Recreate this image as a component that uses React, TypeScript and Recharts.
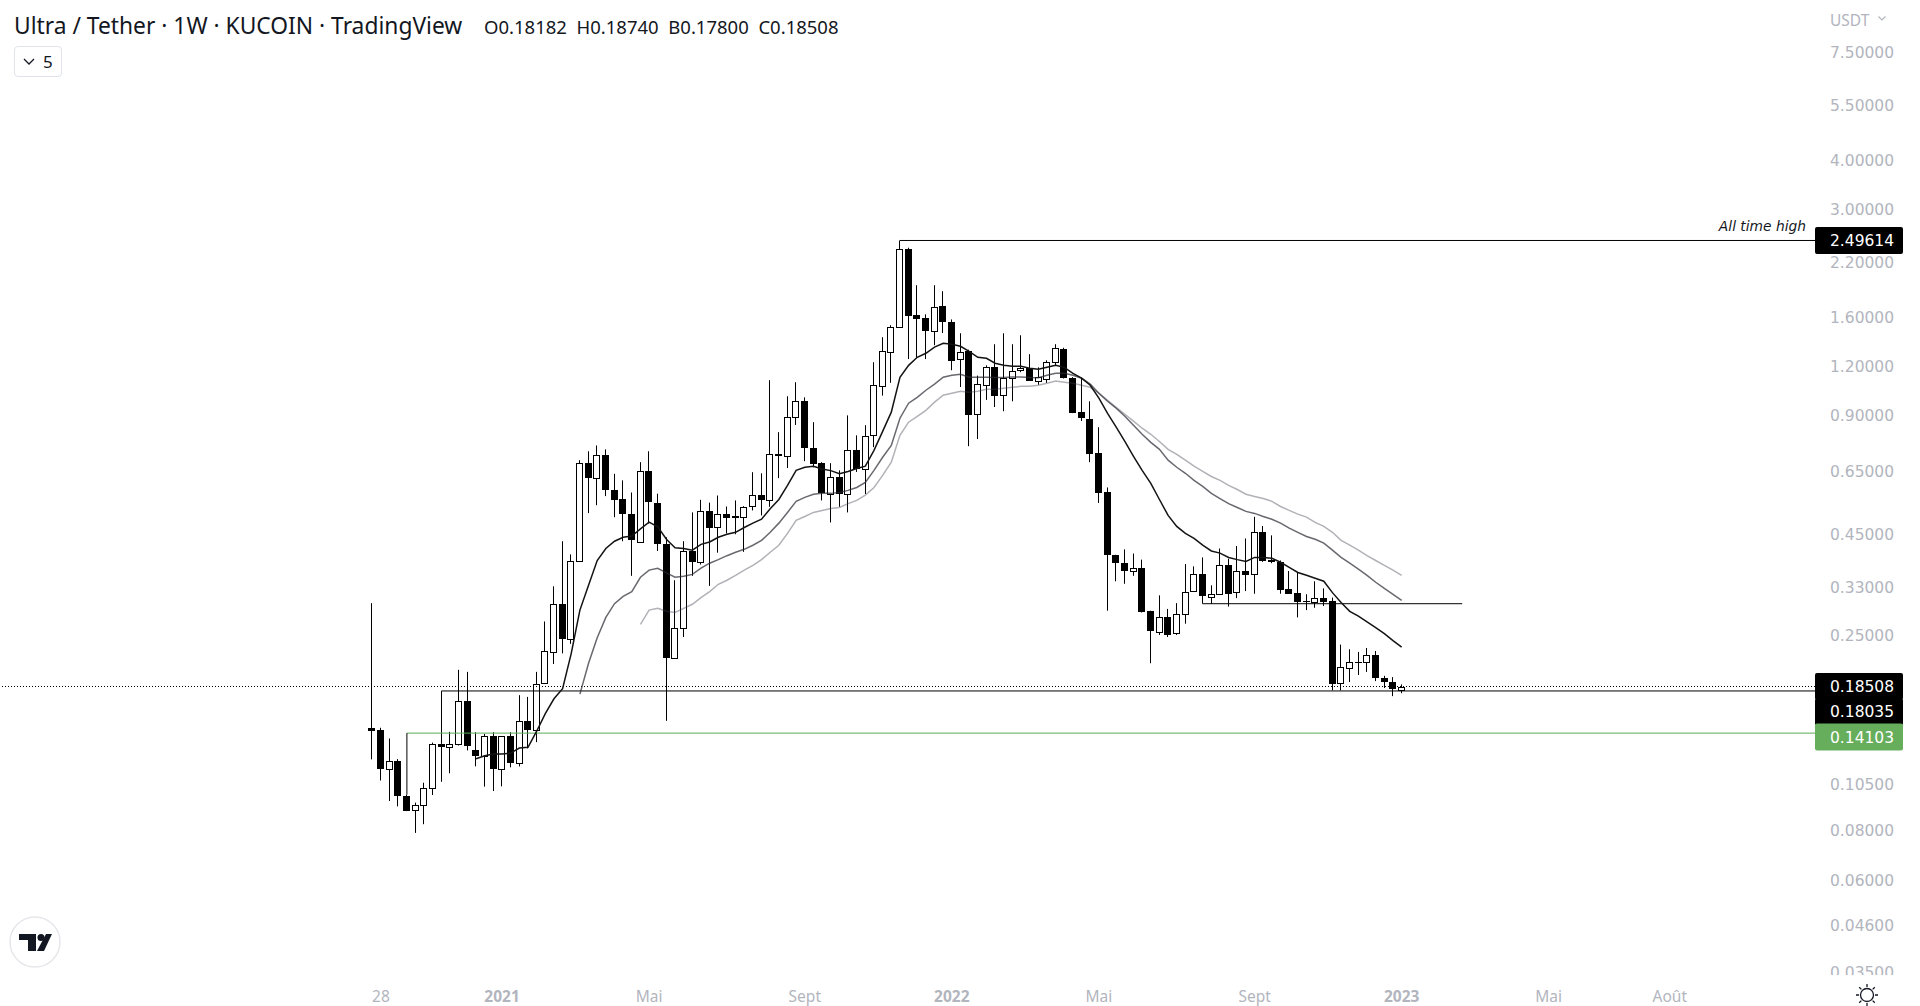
import React from "react";
import { ComposedChart, Bar, Line, XAxis, YAxis, ReferenceLine, ReferenceDot } from "recharts";

const opens = [.1455,.1432,.1143,.12,.098,.0897,.0931,.1024,.132,.1298,.132,.1697,.128,.1233,.1387,.1145,.1387,.1188,.151,.1437,.1883,.2273,.3,.244,.385,.683,.626,.715,.583,.553,.507,.431,.652,.541,.426,.219,.26,.407,.383,.516,.47,.507,.499,.498,.528,.564,.55,.72,.71,.889,.976,.746,.68,.57,.63,.57,.737,.66,.801,1.07,1.306,1.511,2.38,1.613,1.584,1.47,1.7,1.556,1.254,1.313,.904,1.076,1.196,1.011,1.123,1.176,1.189,1.095,1.116,1.231,1.328,1.122,.92,.883,.724,.577,.398,.381,.362,.369,.287,.255,.278,.254,.284,.322,.356,.313,.318,.377,.322,.364,.356,.456,.386,.383,.327,.32,.304,.304,.311,.304,.189,.2063,.2135,.2126,.2219,.194,.1905,.18182];
const highs = [.301,.1455,.1367,.1212,.0985,.094,.1056,.1334,.1325,.1421,.204,.2016,.1418,.1404,.1418,.1387,.1418,.176,.1742,.2016,.2705,.332,.432,.4,.693,.73,.755,.738,.64,.616,.574,.685,.73,.57,.442,.344,.432,.511,.55,.541,.564,.529,.548,.53,.646,.642,1.105,.816,1.006,1.092,1.0,.865,.685,.681,.653,.9,.801,.85,1.227,1.42,1.523,2.49614,2.393,1.923,1.622,1.923,1.857,1.575,1.453,1.32,1.135,1.205,1.363,1.453,1.363,1.436,1.286,1.191,1.241,1.363,1.335,1.125,1.116,.977,.84,.591,.399,.412,.402,.388,.288,.315,.291,.301,.378,.373,.393,.334,.414,.39,.42,.439,.498,.472,.447,.386,.363,.359,.317,.342,.328,.311,.2364,.23,.2265,.2317,.2277,.197,.1955,.1874];
const lows = [.121,.107,.0949,.092,.0895,.0788,.0829,.0983,.1062,.1116,.1312,.1275,.1162,.1032,.1006,.1034,.1155,.1161,.129,.1338,.1883,.2111,.2246,.2375,.385,.509,.533,.562,.497,.432,.353,.43,.479,.408,.1515,.2175,.247,.353,.377,.333,.404,.452,.45,.406,.517,.502,.528,.624,.662,.851,.689,.665,.548,.482,.528,.511,.647,.569,.748,1.01,1.088,1.511,1.25,1.26,1.25,1.355,1.455,1.171,1.062,.752,.784,.985,.945,.922,.977,1.158,1.1,1.076,1.088,1.206,1.116,.912,.871,.685,.54,.288,.342,.337,.353,.285,.212,.25,.247,.25,.267,.322,.3,.3,.318,.295,.31,.323,.318,.383,.38,.318,.318,.277,.289,.293,.296,.181,.181,.19,.198,.2016,.191,.1835,.175,.178];
const closes = [.1426,.114,.1198,.0977,.0899,.0925,.1026,.132,.1295,.132,.1697,.1308,.1236,.1387,.1142,.1387,.1188,.1517,.1433,.1883,.2273,.3,.244,.385,.683,.624,.715,.582,.549,.506,.435,.652,.543,.425,.219,.261,.407,.382,.516,.466,.507,.494,.494,.528,.564,.549,.72,.71,.889,.976,.744,.679,.57,.63,.57,.737,.658,.8,1.074,1.313,1.511,2.38,1.61,1.58,1.465,1.69,1.553,1.243,1.303,.902,1.078,1.196,1.008,1.116,1.169,1.189,1.1,1.123,1.231,1.335,1.12,.917,.887,.722,.575,.4,.38,.364,.369,.286,.255,.278,.251,.283,.322,.356,.313,.318,.377,.319,.364,.356,.456,.386,.381,.325,.318,.303,.303,.311,.303,.1875,.2069,.2131,.2126,.2219,.1935,.189,.1825,.18508];

const blackNulls = Array(12).fill(null);
const emaFast = [...blackNulls,.1215,.1236,.1248,.1248,.1255,.1293,.1298,.1426,.158,.1723,.1828,.2246,.289,.334,.386,.414,.432,.442,.445,.464,.483,.47,.437,.416,.414,.41,.424,.43,.442,.45,.455,.468,.48,.491,.522,.551,.598,.653,.665,.669,.658,.652,.64,.649,.66,.669,.734,.82,.917,1.124,1.205,1.263,1.293,1.34,1.371,1.363,1.347,1.308,1.263,1.256,1.22,1.205,1.198,1.198,1.185,1.178,1.191,1.205,1.191,1.15,1.118,1.073,.995,.91,.84,.773,.709,.653,.605,.551,.502,.471,.452,.439,.422,.408,.403,.393,.388,.384,.393,.393,.391,.382,.371,.36,.354,.348,.342,.32,.302,.287,.279,.27,.261,.252,.242,.233];
const midNulls = Array(24).fill(null);
const emaMid = [...midNulls,.177,.212,.246,.277,.3,.313,.322,.35,.365,.369,.359,.35,.352,.356,.369,.38,.388,.397,.405,.412,.422,.434,.455,.48,.511,.545,.558,.568,.571,.571,.574,.581,.591,.609,.653,.705,.755,.885,.966,1.0,1.042,1.08,1.124,1.137,1.144,1.124,1.124,1.124,1.122,1.123,1.126,1.126,1.122,1.121,1.137,1.15,1.15,1.137,1.118,1.08,1.024,.977,.938,.895,.85,.806,.769,.738,.693,.665,.642,.616,.595,.571,.554,.538,.526,.514,.508,.499,.491,.48,.466,.455,.444,.437,.427,.41,.393,.38,.367,.354,.34,.328,.317,.306];
const slowNulls = Array(31).fill(null);
const emaSlow = [...slowNulls,.266,.289,.292,.287,.285,.292,.299,.311,.322,.336,.344,.354,.365,.375,.388,.405,.422,.452,.488,.499,.511,.517,.523,.526,.538,.548,.565,.591,.634,.685,.801,.865,.895,.927,.972,1.012,1.024,1.036,1.03,1.036,1.048,1.048,1.054,1.06,1.066,1.066,1.073,1.086,1.099,1.092,1.086,1.073,1.06,1.024,.983,.943,.906,.87,.835,.806,.773,.738,.717,.693,.669,.649,.63,.616,.598,.584,.568,.561,.554,.545,.529,.517,.506,.497,.482,.471,.455,.434,.422,.41,.397,.386,.375,.365,.354];

const priceTicks = [7.5,5.5,4,3,2.2,1.6,1.2,0.9,0.65,0.45,0.33,0.25,0.105,0.08,0.06,0.046,0.035];
const timeTickIndex = [1,15,32,50,67,84,102,119,136,150];
const timeTickLabels = ["28","2021","Mai","Sept","2022","Mai","Sept","2023","Mai","Août"];
const boldTimeLabels = ["2021","2022","2023"];

const ATH = 2.49614;
const LAST = 0.18508;
const SUPPORT = 0.18035;
const GREEN = 0.14103;
const RANGE_LEVEL = 0.30;

const data = opens.map((o, i) => ({
  i,
  open: o,
  high: highs[i],
  low: lows[i],
  close: closes[i],
  range: [lows[i], highs[i]],
  emaFast: emaFast[i],
  emaMid: emaMid[i],
  emaSlow: emaSlow[i],
}));

const W = 1920, H = 1006, AXW = 105, AXH = 31;
const X0 = 372.3, STEP = 8.65;
const xMin = -X0 / STEP;
const xMax = (W - AXW - X0) / STEP;
const yMin = 0.0344, yMax = 10.15;
const FONT = "'DejaVu Sans', sans-serif";
const UI = "'Noto Sans', sans-serif";
const GREY = "#b2b5be";
const INK = "#131722";

function Candle(props: any) {
  const { x, y, width, height, payload } = props;
  const { open, close, high, low } = payload;
  const span = Math.log(high) - Math.log(low) || 1;
  const py = (v: number) => y + (height * (Math.log(high) - Math.log(v))) / span;
  const top = Math.max(open, close), bot = Math.min(open, close);
  const yt = py(top), yb = py(bot);
  const cx = Math.round(x + width / 2);
  const up = close >= open;
  return (
    <g>
      <rect x={cx - 1} y={y} width={1} height={height} fill="#000" />
      {up ? (
        <rect x={cx - 3.5} y={Math.round(yt) + 0.5} width={6} height={Math.max(1, Math.round(yb - yt))} fill="#fff" stroke="#000" strokeWidth={1} />
      ) : (
        <rect x={cx - 4} y={Math.round(yt)} width={7} height={Math.max(1, Math.round(yb - yt))} fill="#000" />
      )}
    </g>
  );
}

function PriceTick(props: any) {
  const { y, payload } = props;
  return (
    <svg x={0} y={0} width={W} height={975} overflow="hidden">
      <text x={1830} y={y + 6} fill={GREY} fontSize={15.5} fontFamily={FONT}>
        {payload.value.toFixed(5)}
      </text>
    </svg>
  );
}

function TimeTick(props: any) {
  const { x, payload } = props;
  const label = timeTickLabels[timeTickIndex.indexOf(payload.value)];
  const bold = boldTimeLabels.includes(label);
  return (
    <text x={x} y={1002} textAnchor="middle" fill={GREY} fontSize={15.5} fontWeight={bold ? 700 : 400} fontFamily={UI}>
      {label}
    </text>
  );
}

function tag(label: string, fill: string, shift: number) {
  return (p: any) => (
    <g>
      <rect x={p.cx} y={p.cy - 13.5 + shift} width={88} height={27} rx={2} fill={fill} />
      <text x={p.cx + 15} y={p.cy + 5.5 + shift} fill="#fff" fontSize={15.5} fontWeight={500} fontFamily={FONT}>
        {label}
      </text>
    </g>
  );
}

export default function App() {
  return (
    <div style={{ position: "absolute", left: 0, top: 0, width: W, height: H, overflow: "hidden", background: "#fff" }}>
      <ComposedChart width={W} height={H} data={data} margin={{ top: 0, right: 0, bottom: 0, left: 0 }}>
        <XAxis
          dataKey="i"
          type="number"
          domain={[xMin, xMax]}
          allowDataOverflow
          ticks={timeTickIndex}
          interval={0}
          height={AXH}
          axisLine={false}
          tickLine={false}
          tick={<TimeTick />}
        />
        <YAxis
          orientation="right"
          scale="log"
          type="number"
          domain={[yMin, yMax]}
          allowDataOverflow
          ticks={priceTicks}
          interval={0}
          width={AXW}
          axisLine={false}
          tickLine={false}
          tick={<PriceTick />}
        />
        <ReferenceLine y={LAST} stroke="#000" strokeDasharray="1 2" strokeWidth={1} />
        <ReferenceLine segment={[{ x: 61, y: ATH }, { x: xMax, y: ATH }]} stroke="#000" strokeWidth={1} />
        <ReferenceLine segment={[{ x: 8, y: SUPPORT }, { x: xMax, y: SUPPORT }]} stroke="#000" strokeWidth={1} />
        <ReferenceLine segment={[{ x: 8, y: SUPPORT }, { x: 8, y: highs[8] }]} stroke="#000" strokeWidth={1} />
        <ReferenceLine segment={[{ x: 4, y: GREEN }, { x: xMax, y: GREEN }]} stroke="#5cab55" strokeWidth={1} />
        <ReferenceLine segment={[{ x: 4, y: GREEN }, { x: 4, y: highs[4] }]} stroke="#000" strokeWidth={1} />
        <ReferenceLine segment={[{ x: 96, y: RANGE_LEVEL }, { x: 126, y: RANGE_LEVEL }]} stroke="#000" strokeWidth={1} />
        <Bar dataKey="range" barSize={7} isAnimationActive={false} shape={<Candle />} />
        <Line dataKey="emaSlow" stroke="rgba(60,60,75,0.4)" strokeWidth={1.5} dot={false} activeDot={false} isAnimationActive={false} />
        <Line dataKey="emaMid" stroke="rgba(40,40,50,0.7)" strokeWidth={1.5} dot={false} activeDot={false} isAnimationActive={false} />
        <Line dataKey="emaFast" stroke="#131313" strokeWidth={1.5} dot={false} activeDot={false} isAnimationActive={false} />
        <ReferenceDot x={xMax} y={ATH} ifOverflow="visible" shape={tag("2.49614", "#000", 0) as any} />
        <ReferenceDot x={xMax} y={LAST} ifOverflow="visible" shape={tag("0.18508", "#000", 0) as any} />
        <ReferenceDot x={xMax} y={SUPPORT} ifOverflow="visible" shape={tag("0.18035", "#000", 21) as any} />
        <ReferenceDot x={xMax} y={GREEN} ifOverflow="visible" shape={tag("0.14103", "#66ae5c", 4) as any} />
        <ReferenceDot
          x={xMax}
          y={ATH}
          ifOverflow="visible"
          shape={((p: any) => (
            <text x={p.cx - 9} y={p.cy - 9} textAnchor="end" fontSize={13.8} fontStyle="italic" fill="#131722" fontFamily={FONT}>
              All time high
            </text>
          )) as any}
        />
      </ComposedChart>

      <div style={{ position: "absolute", left: 14, top: 10, fontFamily: UI, fontSize: 22.8, color: INK, whiteSpace: "nowrap" }}>
        Ultra / Tether · 1W · KUCOIN · TradingView
      </div>
      <div style={{ position: "absolute", left: 484, top: 14, fontFamily: UI, fontSize: 18.5, color: INK, whiteSpace: "nowrap" }}>
        O0.18182&nbsp; H0.18740&nbsp; B0.17800&nbsp; C0.18508
      </div>
      <div style={{ position: "absolute", left: 14, top: 46, width: 46, height: 29, border: "1px solid #e0e3eb", borderRadius: 4, fontFamily: UI, fontSize: 17, color: INK, lineHeight: "29px" }}>
        <svg width={14} height={10} style={{ position: "absolute", left: 7, top: 10 }}>
          <path d="M2 2 L7 7 L12 2" stroke={INK} strokeWidth={1.3} fill="none" />
        </svg>
        <span style={{ position: "absolute", left: 28 }}>5</span>
      </div>
      <div style={{ position: "absolute", left: 1830, top: 9, fontFamily: UI, fontSize: 15.5, color: GREY }}>USDT</div>
      <svg width={12} height={8} style={{ position: "absolute", left: 1877, top: 15 }}>
        <path d="M1.5 1.5 L5 5 L8.5 1.5" stroke={GREY} strokeWidth={1.2} fill="none" />
      </svg>
      <svg width={60} height={60} style={{ position: "absolute", left: 5, top: 912 }}>
        <circle cx={30} cy={30} r={25} fill="#fff" stroke="#e6e7ea" strokeWidth={1.5} />
        <path d="M14 22 H31 V39 H23 V28 H14 Z" fill={INK} />
        <circle cx={36} cy={25.5} r={3.5} fill={INK} />
        <path d="M41 22 H47 L39 39 H32 Z" fill={INK} />
      </svg>
      <svg width={30} height={30} style={{ position: "absolute", left: 1852, top: 980 }}>
        <circle cx={15} cy={15} r={6.5} fill="none" stroke={INK} strokeWidth={1.3} />
        <path d="M15 4 V7 M15 23 V26 M4 15 H7 M23 15 H26 M7.2 7.2 L9.4 9.4 M20.6 20.6 L22.8 22.8 M7.2 22.8 L9.4 20.6 M20.6 9.4 L22.8 7.2" stroke={INK} strokeWidth={1.3} />
      </svg>
    </div>
  );
}
